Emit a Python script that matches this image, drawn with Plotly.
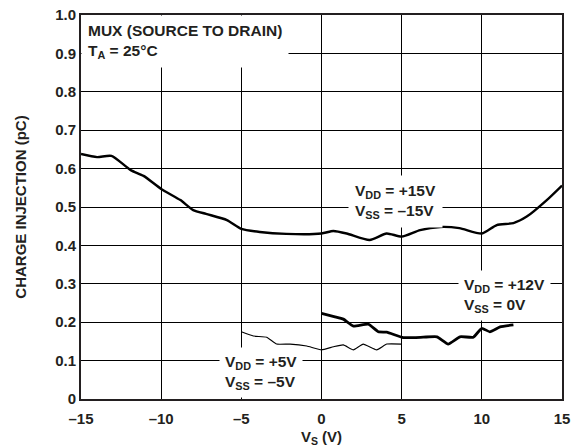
import plotly.graph_objects as go

# Data
vs_15 = [-15, -14.0, -13.1, -11.9, -11.1, -10.0, -8.8, -8.0, -7.2, -5.9, -5.0, -3.85, -2.2,
         0, 0.74, 1.57, 3.0, 4.06, 5.0, 6.15, 7.4, 8.6, 10.0, 10.93, 11.97, 12.8, 14.05, 15]
qi_15 = [0.638, 0.630, 0.633, 0.596, 0.581, 0.547, 0.518, 0.492, 0.482, 0.466, 0.443, 0.435, 0.430,
         0.431, 0.4375, 0.431, 0.414, 0.431, 0.423, 0.440, 0.448, 0.445, 0.431, 0.453, 0.458, 0.475, 0.518, 0.556]

vs_12 = [0, 0.84, 1.36, 1.99, 2.92, 3.55, 4.07, 5.1, 6.35, 7.2, 7.9, 8.64, 9.47, 10.0, 10.5, 11.14, 11.97]
qi_12 = [0.223, 0.214, 0.208, 0.190, 0.195, 0.175, 0.174, 0.160, 0.161, 0.162, 0.143, 0.162, 0.161,
         0.184, 0.175, 0.188, 0.193]

vs_5 = [-5, -4.25, -3.42, -2.8, -1.96, -0.92, 0, 0.74, 1.36, 1.99, 2.6, 3.44, 4.07, 5.0]
qi_5 = [0.175, 0.164, 0.161, 0.143, 0.143, 0.138, 0.128, 0.136, 0.141, 0.128, 0.143, 0.128, 0.143, 0.143]

x_ticks = [-15, -10, -5, 0, 5, 10, 15]
x_ticktext = ["–15", "–10", "–5", "0", "5", "10", "15"]
y_ticks = [0, 0.1, 0.2, 0.3, 0.4, 0.5, 0.6, 0.7, 0.8, 0.9, 1.0]
y_ticktext = ["0", "0.1", "0.2", "0.3", "0.4", "0.5", "0.6", "0.7", "0.8", "0.9", "1.0"]

FONT = "Liberation Sans, Arial, sans-serif"
TXT = "#231f20"

fig = go.Figure()
fig.add_trace(go.Scatter(x=vs_15, y=qi_15, mode="lines", line=dict(color="black", width=2.4, shape="spline", smoothing=0.6)))
fig.add_trace(go.Scatter(x=vs_12, y=qi_12, mode="lines", line=dict(color="black", width=2.8, shape="spline", smoothing=0.4)))
fig.add_trace(go.Scatter(x=vs_5, y=qi_5, mode="lines", line=dict(color="black", width=1.1, shape="spline", smoothing=0.4)))

font = dict(family=FONT, size=15, color=TXT, weight="bold")
afont = dict(family=FONT, size=15.5, color=TXT, weight="bold")

fig.update_layout(
    width=577, height=447,
    margin=dict(l=81, r=15, t=15, b=48),
    paper_bgcolor="white", plot_bgcolor="white",
    showlegend=False,
    font=font,
    xaxis=dict(range=[-15, 15], tickvals=x_ticks, ticktext=x_ticktext,
               showgrid=True, gridcolor="black", gridwidth=1.2,
               showline=True, linecolor=TXT, linewidth=2, mirror=True,
               zeroline=False, ticks="", tickfont=font, automargin=False,
               ticklabelstandoff=5,
               title=dict(text="V<sub>S</sub> (V)", font=font, standoff=5)),
    yaxis=dict(range=[0, 1.0], tickvals=y_ticks, ticktext=y_ticktext,
               showgrid=True, gridcolor="black", gridwidth=1.2,
               showline=True, linecolor=TXT, linewidth=2, mirror=True,
               zeroline=False, ticks="", tickfont=font, automargin=False,
               title=dict(text="CHARGE INJECTION (pC)", font=font, standoff=25)),
)

ann = dict(font=afont, bgcolor="white", showarrow=False, align="left")
fig.add_annotation(x=-15, y=1.0, xref="x", yref="y", xanchor="left", yanchor="top",
                   text="MUX (SOURCE TO DRAIN)<br>T<sub>A</sub> = 25°C", borderpad=6, **ann)
fig.add_annotation(x=4.6, y=0.515, xref="x", yref="y", xanchor="center", yanchor="middle",
                   text="V<sub>DD</sub> = +15V<br>V<sub>SS</sub> = –15V", borderpad=6, **ann)
fig.add_annotation(x=11.42, y=0.27, xref="x", yref="y", xanchor="center", yanchor="middle",
                   text="V<sub>DD</sub> = +12V<br>V<sub>SS</sub> = 0V", borderpad=5, **ann)
fig.add_annotation(x=-3.77, y=0.07, xref="x", yref="y", xanchor="center", yanchor="middle",
                   text="V<sub>DD</sub> = +5V<br>V<sub>SS</sub> = –5V", borderpad=5, **ann)

fig.write_html("out.html", config={"displayModeBar": False},
               post_script="document.body.style.margin='0';")
